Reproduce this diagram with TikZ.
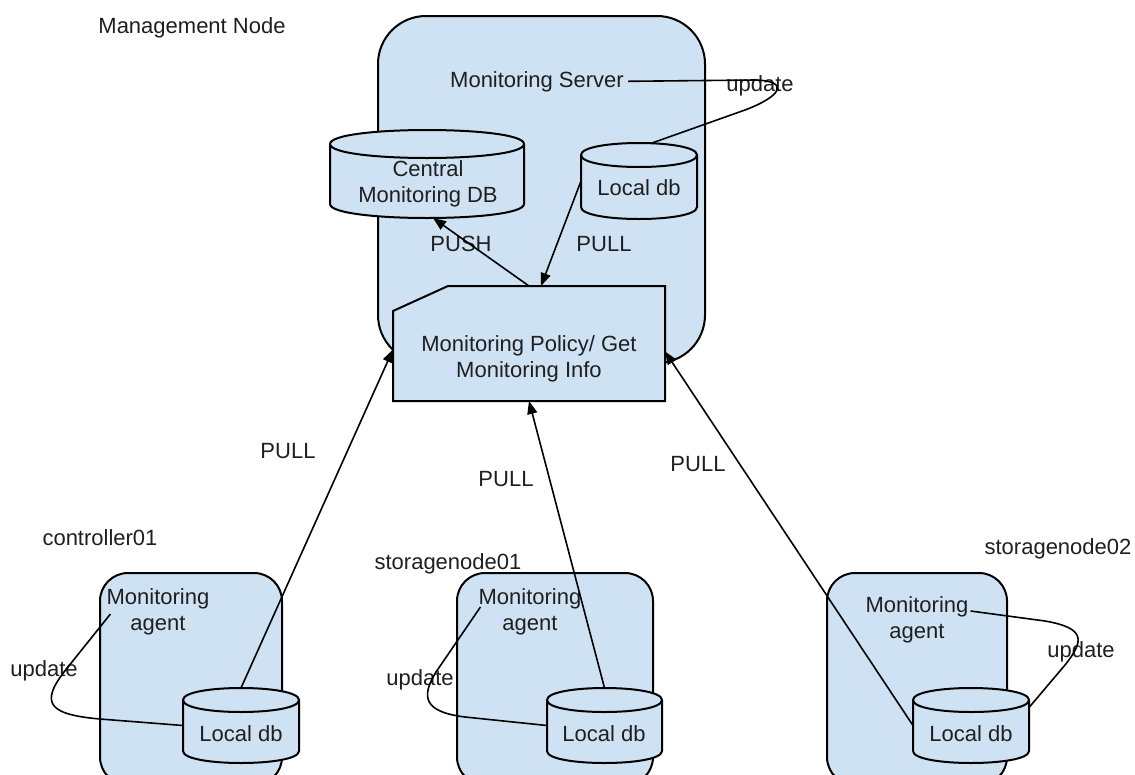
\documentclass[tikz,border=0pt]{standalone}
\usepackage{fontspec}
\setmainfont{Liberation Sans}
\usetikzlibrary{arrows.meta}
\definecolor{boxfill}{HTML}{CFE2F3}
\definecolor{txt}{HTML}{1F1F1F}
\tikzset{
  lbl/.style={font=\fontsize{22}{26}\selectfont, text=txt, inner sep=2pt, align=center},
  blbl/.style={lbl, anchor=base},
  shp/.style={draw=black, line width=2pt, fill=boxfill},
  conn/.style={draw=black, line width=1.6pt},
  arr/.style={conn, -{Triangle[length=13pt,width=10pt]}},
  bbox/.style={inner sep=0pt, outer sep=0pt, draw=none},
}
\newcommand\dbcyl[6]{%
  \pgfmathsetmacro\cylw{#4-#2}%
  \pgfmathsetmacro\cylh{#5-#3}%
  \pgfmathsetmacro\cylcx{(#2+#4)/2}%
  \pgfmathsetmacro\cylcy{(#3+#5)/2}%
  \pgfmathsetmacro\cyla{#3+#6}%
  \pgfmathsetmacro\cylb{#5-#6}%
  \pgfmathsetmacro\cylk{4*#6/3}%
  \path[shp] ({#2},{\cyla}) -- ({#2},{\cylb})
    .. controls ({#2},{\cylb+\cylk}) and ({#4},{\cylb+\cylk}) .. ({#4},{\cylb})
    -- ({#4},{\cyla})
    .. controls ({#4},{\cyla-\cylk}) and ({#2},{\cyla-\cylk}) .. cycle;
  \draw[line width=2pt] ({#2},{\cyla}) .. controls ({#2},{\cyla+\cylk}) and ({#4},{\cyla+\cylk}) .. ({#4},{\cyla});
  \node[bbox, minimum width=\cylw pt, minimum height=\cylh pt] (#1) at (\cylcx,\cylcy) {};
}
\begin{document}
\begin{tikzpicture}[x=1pt,y=-1pt]
\useasboundingbox (0,0) rectangle (1135,774);
\fill[white] (0,0) rectangle (1135,774);
\clip (0,0) rectangle (1135,774);

% management node
\node[shp, rounded corners=48pt, minimum width=327pt, minimum height=347pt] (mgmt) at (541.5,189.5) {};
\node[blbl] (mgmtlbl) at (192,33) {Management Node};
\node[blbl, inner sep=4pt] (srv) at (537,87) {Monitoring Server};

\dbcyl{cdb}{330}{130}{524}{218}{14}
\node[lbl] (cdbt) at (428,184) {Central\\Monitoring DB};
\dbcyl{sldb}{581}{143}{697}{219}{12}
\node[blbl] (sldbt) at (639,195) {Local db};

\node[blbl] (push) at (461,251) {PUSH};
\node[blbl] (pullsrv) at (604,251) {PULL};

% policy box
\node[bbox, minimum width=272pt, minimum height=115pt] (pol) at (529,343.5) {};
\path[shp] ([yshift=-25pt]pol.north west) -- ([xshift=55pt]pol.north west) -- (pol.north east)
  -- (pol.south east) -- (pol.south west) -- cycle;
\node[lbl] (polt) at (529,359) {Monitoring Policy/ Get\\Monitoring Info};

% agent boxes
\node[shp, rounded corners=28pt, minimum width=182pt, minimum height=212pt] (boxA) at (191,679) {};
\node[shp, rounded corners=28pt, minimum width=196pt, minimum height=212pt] (boxB) at (555,679) {};
\node[shp, rounded corners=28pt, minimum width=180pt, minimum height=212pt] (boxC) at (917,679) {};

\node[blbl] (nameA) at (100,545) {controller01};
\node[blbl] (nameB) at (448,569) {storagenode01};
\node[blbl] (nameC) at (1058,554) {storagenode02};

\node[lbl] (agA) at (158,612) {Monitoring\\agent};
\node[lbl] (agB) at (530,612) {Monitoring\\agent};
\node[lbl] (agC) at (917,620) {Monitoring\\agent};

\dbcyl{ldbA}{183}{688}{299}{763}{12}
\dbcyl{ldbB}{547}{688}{662}{763}{12}
\dbcyl{ldbC}{913}{688}{1029}{763}{12}
\node[blbl] (ldbAt) at (241,741) {Local db};
\node[blbl] (ldbBt) at (604,741) {Local db};
\node[blbl] (ldbCt) at (971,741) {Local db};

% labels
\node[blbl] (pullA) at (288,458) {PULL};
\node[blbl] (pullB) at (506,486) {PULL};
\node[blbl] (pullC) at (698,471) {PULL};
\node[blbl] (updS) at (760,91) {update};
\node[blbl] (updA) at (44,676) {update};
\node[blbl] (updB) at (420,685) {update};
\node[blbl] (updC) at (1081,657) {update};

% connectors in management node
\draw[arr] (pol.north) -- ([xshift=6pt]cdb.south);
\draw[arr] (sldb.west) -- ([xshift=12pt]pol.north);
\draw[conn] (srv.east) -- (755,80) .. controls (790,81) and (782,96) .. (745,110) -- ([xshift=13pt]sldb.north);

% agent connectors
\draw[arr] (ldbA.north) -- ([yshift=-6pt]pol.west);
\draw[arr] (ldbB.north) -- (pol.south);
\draw[arr] (ldbC.west) -- ([yshift=-8pt]pol.east);

% update loops
\draw[conn] ([xshift=6pt,yshift=-2pt]agA.west) -- (72,662) .. controls (40,700) and (42,714) .. (100,719) -- (ldbA.west);
\draw[conn] ([xshift=4pt,yshift=5pt]agB.west) -- (436,672) .. controls (420,698) and (425,712) .. (465,717) -- (ldbB.west);
\draw[conn] ([yshift=9pt]agC.east) -- (1045,621) .. controls (1085,628) and (1085,640) .. (1065,665) -- ([yshift=18pt]ldbC.east);
\end{tikzpicture}
\end{document}
